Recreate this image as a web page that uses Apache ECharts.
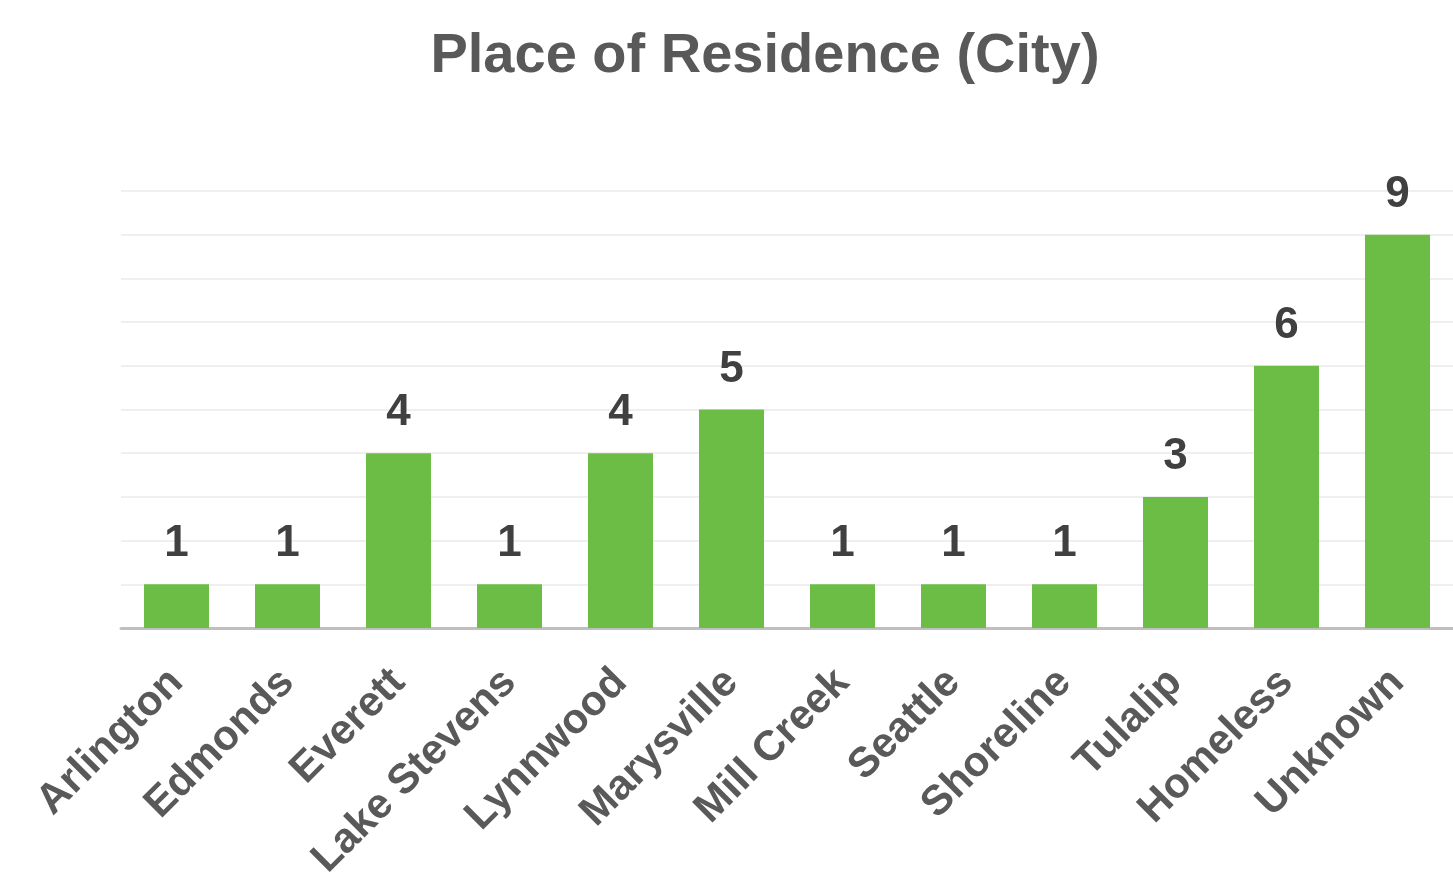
<!DOCTYPE html>
<html>
<head>
<meta charset="utf-8">
<script src="https://cdn.jsdelivr.net/npm/echarts@6/dist/echarts.min.js"></script>
<style>
html,body{margin:0;padding:0;background:#fff;}
#chart{width:1453px;height:893px;}
</style>
</head>
<body>
<div id="chart"></div>
<script>
const categories = ["Arlington","Edmonds","Everett","Lake Stevens","Lynnwood","Marysville","Mill Creek","Seattle","Shoreline","Tulalip","Homeless","Unknown"];
const values = [1,1,4,1,4,5,1,1,1,3,6,9];
const titleText = "Place of Residence (City)";

const chart = echarts.init(document.getElementById('chart'), null, {renderer:'canvas'});
chart.setOption({
  animation:false,
  backgroundColor:'#ffffff',
  title:{
    text:titleText,
    left:760,
    textAlign:'center',
    top:24,
    textStyle:{fontFamily:'Liberation Sans, Arial, sans-serif',fontWeight:'bold',fontSize:56,color:'#595959'}
  },
  grid:{left:121,width:1336,top:191,bottom:265,containLabel:false},
  xAxis:{
    type:'category',
    data:categories,
    axisLine:{show:true,lineStyle:{color:'#BFBFBF',width:3}},
    axisTick:{show:false},
    axisLabel:{
      rotate:45,
      interval:0,
      margin:48,
      fontFamily:'Liberation Sans, Arial, sans-serif',
      fontWeight:'bold',
      fontSize:42,
      color:'#595959'
    }
  },
  yAxis:{
    type:'value',
    min:0,max:10,interval:1,
    axisLabel:{show:false},
    axisLine:{show:false},
    axisTick:{show:false},
    splitLine:{show:true,lineStyle:{color:'#EFEFEF',width:2}}
  },
  series:[{
    type:'bar',
    data:values,
    barWidth:65,
    itemStyle:{color:'#6BBD45'},
    label:{
      show:true,
      position:'top',
      distance:18,
      fontFamily:'Liberation Sans, Arial, sans-serif',
      fontWeight:'bold',
      fontSize:44,
      color:'#404040'
    }
  }]
});
</script>
</body>
</html>
